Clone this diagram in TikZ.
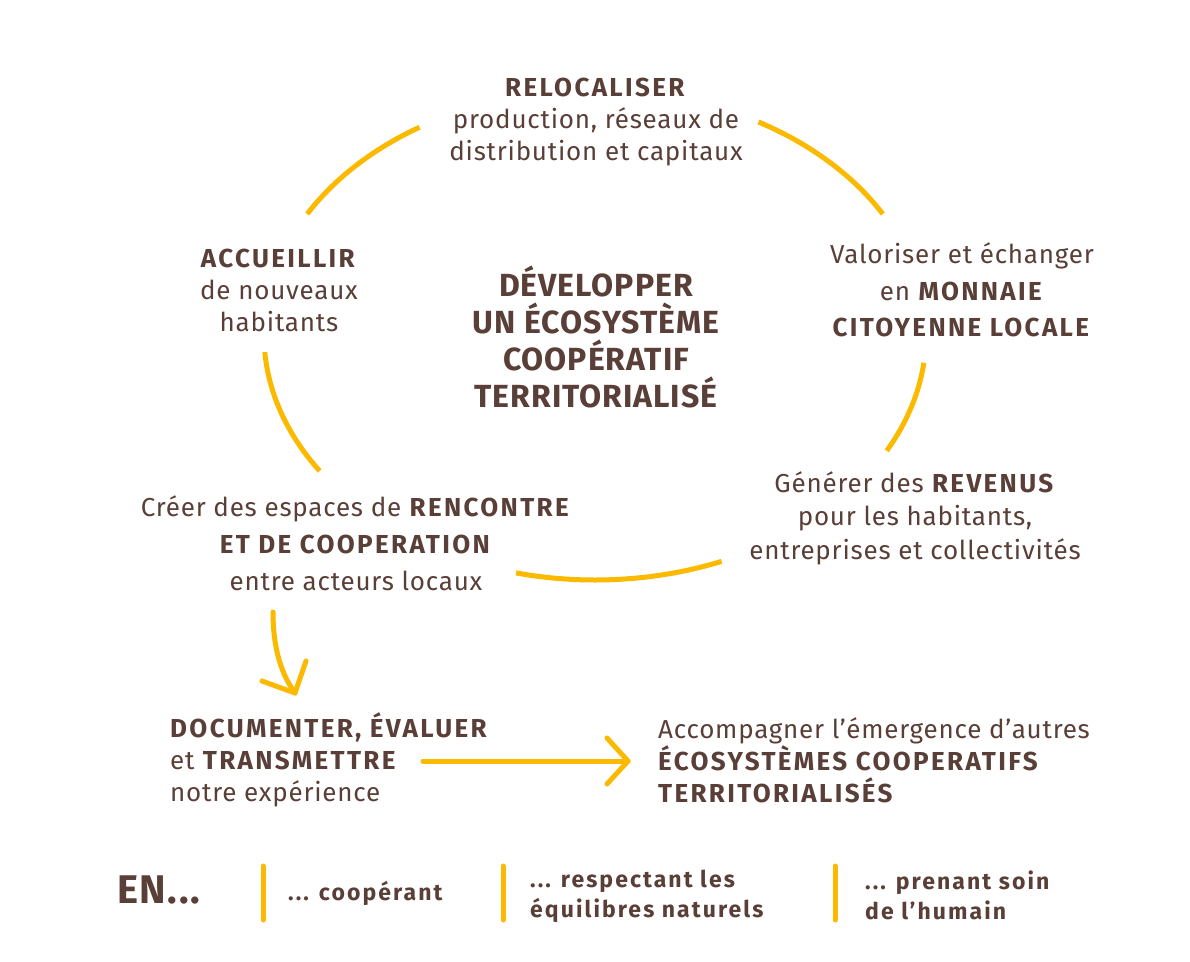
\documentclass[tikz,border=0pt]{standalone}
\usepackage{fontspec}
\setmainfont{Fira Sans}[UprightFeatures={LetterSpace=3}, BoldFeatures={LetterSpace=9}]
\newfontfamily\titrefont{Fira Sans}[LetterSpace=3]
\newfontfamily\enfont{Fira Sans}[LetterSpace=4]
\definecolor{brun}{RGB}{89,63,55}
\definecolor{jaune}{RGB}{251,186,0}
\begin{document}
\begin{tikzpicture}[x=1pt,y=-1pt,
  txt/.style={text=brun, align=center, inner sep=0pt, font=\fontsize{26}{32}\selectfont},
  txtl/.style={txt, align=left, anchor=west},
  titre/.style={text=brun, align=center, inner sep=0pt, font=\fontsize{32}{36.7}\selectfont\titrefont\bfseries},
  pied/.style={text=brun, align=left, anchor=west, inner sep=0pt, font=\fontsize{23}{30}\selectfont\bfseries},
  arc/.style={draw=jaune, line width=5pt},
  fleche/.style={draw=jaune, line width=5pt, line cap=round, line join=round},
  barre/.style={draw=jaune, line width=5pt, line cap=round}]
\useasboundingbox[fill=white] (0,0) rectangle (1190,961);

% cycle nodes
\node[txt] (reloc) at (596,122) {\textbf{RELOCALISER}\\production, réseaux de\\distribution et capitaux};
\node[txt] (accueil) at (279,290) {\textbf{ACCUEILLIR}\\de nouveaux\\habitants};
\node[titre] (centre) at (596,337) {DÉVELOPPER\\UN ÉCOSYSTÈME\\COOPÉRATIF\\TERRITORIALISÉ};
\node[txt, font=\fontsize{26}{36.5}\selectfont] (monnaie) at (962,290) {Valoriser et échanger\\en \textbf{MONNAIE}\\\textbf{CITOYENNE LOCALE}};
\node[txt, font=\fontsize{26}{33.5}\selectfont] (revenus) at (915,518) {Générer des \textbf{REVENUS}\\pour les habitants,\\entreprises et collectivités};
\node[txt, font=\fontsize{26}{37}\selectfont] (rencontre) at (356,543) {Créer des espaces de \textbf{RENCONTRE}\\\textbf{ET DE COOPERATION}\\entre acteurs locaux};

% cycle arcs (ellipse centre (595,335), radii 331 x 245)
\draw[arc] plot[smooth, domain=122:150.4, samples=30] ({595+331*cos(\x)},{335-245*sin(\x)});
\draw[arc] plot[smooth, domain=29.6:60.4, samples=30] ({595+331*cos(\x)},{335-245*sin(\x)});
\draw[arc] plot[smooth, domain=-28.2:-6.5, samples=30] ({595+331*cos(\x)},{335-245*sin(\x)});
\draw[arc] plot[smooth, domain=-103.8:-67.5, samples=30] ({595+331*cos(\x)},{335-245*sin(\x)});
\draw[arc] plot[smooth, domain=184:213.7, samples=30] ({595+331*cos(\x)},{335-245*sin(\x)});

% lower part
\node[txtl] (documenter) at (170,760) {\textbf{DOCUMENTER, ÉVALUER}\\et \textbf{TRANSMETTRE}\\notre expérience};
\node[txtl] (accomp) at (658,760) {Accompagner l’émergence d’autres\\\textbf{ÉCOSYSTÈMES COOPERATIFS}\\\textbf{TERRITORIALISÉS}};

\coordinate (d0) at (273,612);
\coordinate (d1) at (295,693);
\draw[fleche] (d0) .. controls (273,650) and (282,675) .. (d1);
\draw[fleche] (262,681) -- (d1) -- (306,661);

\coordinate (r0) at (423,761);
\coordinate (r1) at (628,761);
\draw[fleche] (r0) -- (r1);
\draw[fleche] (607,738) -- (r1) -- (607,784);

% bottom legend
\node[text=brun, anchor=west, inner sep=0pt, font=\fontsize{40}{42}\selectfont\enfont\bfseries] (en) at (117,890) {EN...};
\draw[barre] (263,866) -- (263,920);
\node[pied] (coop) at (288,893) {... coopérant};
\draw[barre] (503,866) -- (503,920);
\node[pied] (resp) at (530,896) {... respectant les\\équilibres naturels};
\draw[barre] (835,866) -- (835,920);
\node[pied] (soin) at (865,895) {... prenant soin\\de l’humain};
\end{tikzpicture}
\end{document}
